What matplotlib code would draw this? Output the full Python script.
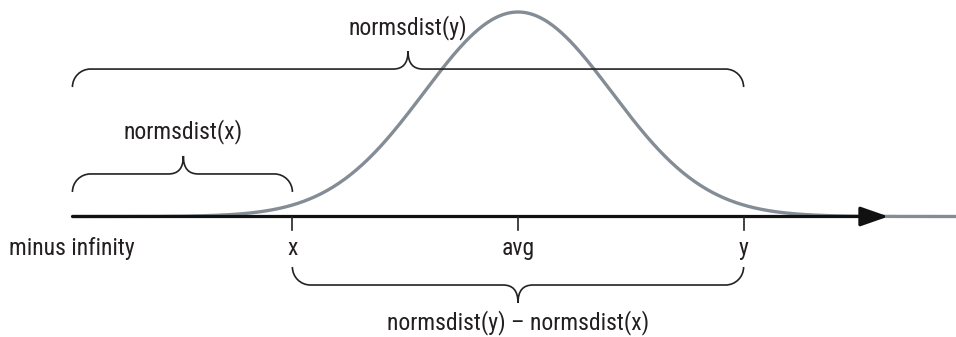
import matplotlib
matplotlib.use('Agg')
import matplotlib.pyplot as plt
import numpy as np
from matplotlib.path import Path
from matplotlib.patches import PathPatch

plt.rcParams['font.family'] = ['Roboto Condensed', 'Roboto', 'DejaVu Sans']
plt.rcParams['font.size'] = 17

# curve parameters (standard units)
mean = 0.0
sd = 1.0
curve_start = -4.74
curve_end = 4.7
axis_start = -4.74
axis_end = 3.94

# points marked on the axis
tick_pos = [-2.4, 0.0, 2.4]
tick_labels = ['x', 'avg', 'y']
left_label = 'minus infinity'

# braces: (from, to, level, tip position, tip up?, label)
braces = [
    (-4.74, 2.4, 0.721, -1.17, True, 'normsdist(y)'),
    (-4.74, -2.4, 0.208, -3.56, True, 'normsdist(x)'),
    (-2.4, 2.4, -0.335, 0.0, False, 'normsdist(y) \u2013 normsdist(x)'),
]

W, H = 956, 337
xlim = (-518 / 94, (W - 518) / 94)
ylim = ((216.5 - H) / 204.5, 216.5 / 204.5)
sx = (xlim[1] - xlim[0]) / W   # data per pixel
sy = (ylim[1] - ylim[0]) / H

fig = plt.figure(figsize=(W / 100, H / 100), dpi=100)
ax = fig.add_axes([0, 0, 1, 1])
ax.set_xlim(*xlim)
ax.set_ylim(*ylim)
ax.axis('off')

# bell curve
xs = np.linspace(curve_start, curve_end, 600)
ys = np.exp(-0.5 * ((xs - mean) / sd) ** 2)
ax.plot(xs, ys, color='#848d95', lw=2.4, zorder=1, solid_capstyle='butt')

# axis with arrow
ax.annotate('', xy=(axis_end, 0), xytext=(axis_start, 0),
            arrowprops=dict(arrowstyle='-|>,head_length=1.0,head_width=0.35',
                            lw=2.3, color='#111111', shrinkA=0, shrinkB=0),
            zorder=2)

# ticks and labels
for p, lab in zip(tick_pos, tick_labels):
    ax.plot([p, p], [0, -13.5 * sy], color='#222222', lw=1.2, zorder=2)
    ax.text(p, -32 * sy, lab, ha='center', va='center', color='#231f20')
ax.text(axis_start - 1 * sx, -32 * sy, left_label, ha='center', va='center', color='#231f20')


def brace(x0, x1, y, tip, up, R=18, T=18, Wt=15):
    s = 1 if up else -1
    k = 0.552
    rx, ry = R * sx, R * sy
    wt, th = Wt * sx, T * sy
    verts = [
        (x0, y - s * ry),
        (x0, y - s * ry * (1 - k)), (x0 + rx * (1 - k), y), (x0 + rx, y),
        (tip - wt, y),
        (tip - wt * 0.35, y), (tip, y + s * th * 0.3), (tip, y + s * th),
        (tip, y + s * th * 0.3), (tip + wt * 0.35, y), (tip + wt, y),
        (x1 - rx, y),
        (x1 - rx * (1 - k), y), (x1, y - s * ry * (1 - k)), (x1, y - s * ry),
    ]
    codes = [Path.MOVETO,
             Path.CURVE4, Path.CURVE4, Path.CURVE4,
             Path.LINETO,
             Path.CURVE4, Path.CURVE4, Path.CURVE4,
             Path.CURVE4, Path.CURVE4, Path.CURVE4,
             Path.LINETO,
             Path.CURVE4, Path.CURVE4, Path.CURVE4]
    ax.add_patch(PathPatch(Path(verts, codes), fill=False, ec='#222222', lw=1.2, zorder=3))


for x0, x1, y, tip, up, lab in braces:
    brace(x0, x1, y, tip, up)
    if up:
        ax.text(tip, y + 42 * sy, lab, ha='center', va='center', color='#231f20')
    else:
        ax.text(tip, y - 38 * sy, lab, ha='center', va='center', color='#231f20')

fig.savefig('out.png', dpi=100)
